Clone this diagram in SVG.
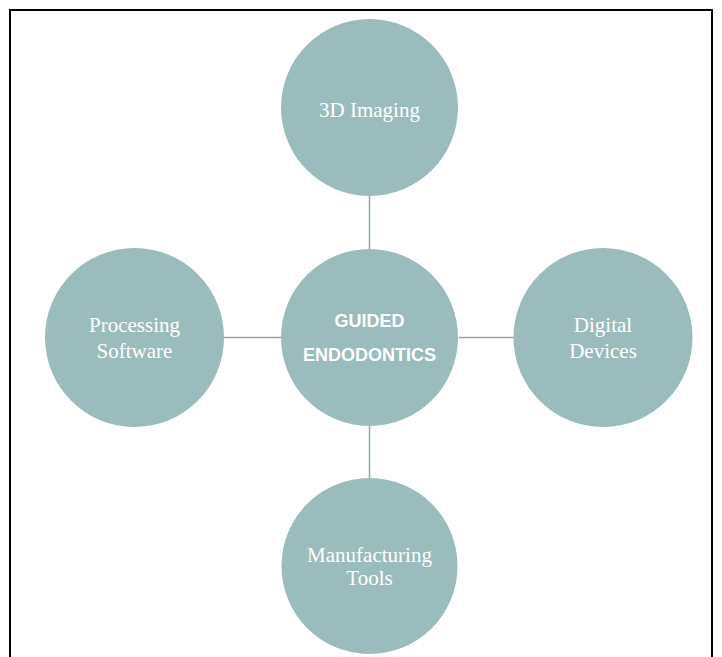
<svg xmlns="http://www.w3.org/2000/svg" width="722" height="657" viewBox="0 0 722 657">
<style>
.node{fill:#9bbcbc}
.lbl{font-family:"Liberation Serif","Times New Roman",serif;font-size:21px;fill:#ffffff;text-anchor:middle}
.ctr{font-family:"Liberation Sans",Arial,sans-serif;font-size:18px;font-weight:bold;fill:#ffffff;text-anchor:middle}
.conn{stroke:#8fa9a9;stroke-width:1.5;fill:none}
</style>
<rect x="0" y="0" width="722" height="657" fill="#ffffff"/>
<rect x="10" y="10" width="702" height="670" fill="none" stroke="#000000" stroke-width="2"/>
<g id="connectors">
<line class="conn" x1="369.5" y1="195" x2="369.5" y2="251"/>
<line class="conn" x1="369.5" y1="423" x2="369.5" y2="479"/>
<line class="conn" x1="224" y1="337.5" x2="281" y2="337.5"/>
<line class="conn" x1="459" y1="337.5" x2="514" y2="337.5"/>
</g>
<g id="n-imaging">
<circle class="node" cx="369.5" cy="107.5" r="88.5"/>
<text class="lbl" x="369.5" y="117">3D Imaging</text>
</g>
<g id="n-center">
<circle class="node" cx="369.5" cy="337.5" r="88.5"/>
<text class="ctr" x="369.5" y="327">GUIDED</text>
<text class="ctr" x="369.5" y="361">ENDODONTICS</text>
</g>
<g id="n-software">
<circle class="node" cx="134.5" cy="337.5" r="89.5"/>
<text class="lbl" x="134.5" y="332">Processing</text>
<text class="lbl" x="134.5" y="358">Software</text>
</g>
<g id="n-devices">
<circle class="node" cx="603" cy="337.5" r="89.5"/>
<text class="lbl" x="603" y="332">Digital</text>
<text class="lbl" x="603" y="358">Devices</text>
</g>
<g id="n-tools">
<circle class="node" cx="369.5" cy="566" r="88"/>
<text class="lbl" x="369.5" y="562">Manufacturing</text>
<text class="lbl" x="369.5" y="585">Tools</text>
</g>
</svg>
